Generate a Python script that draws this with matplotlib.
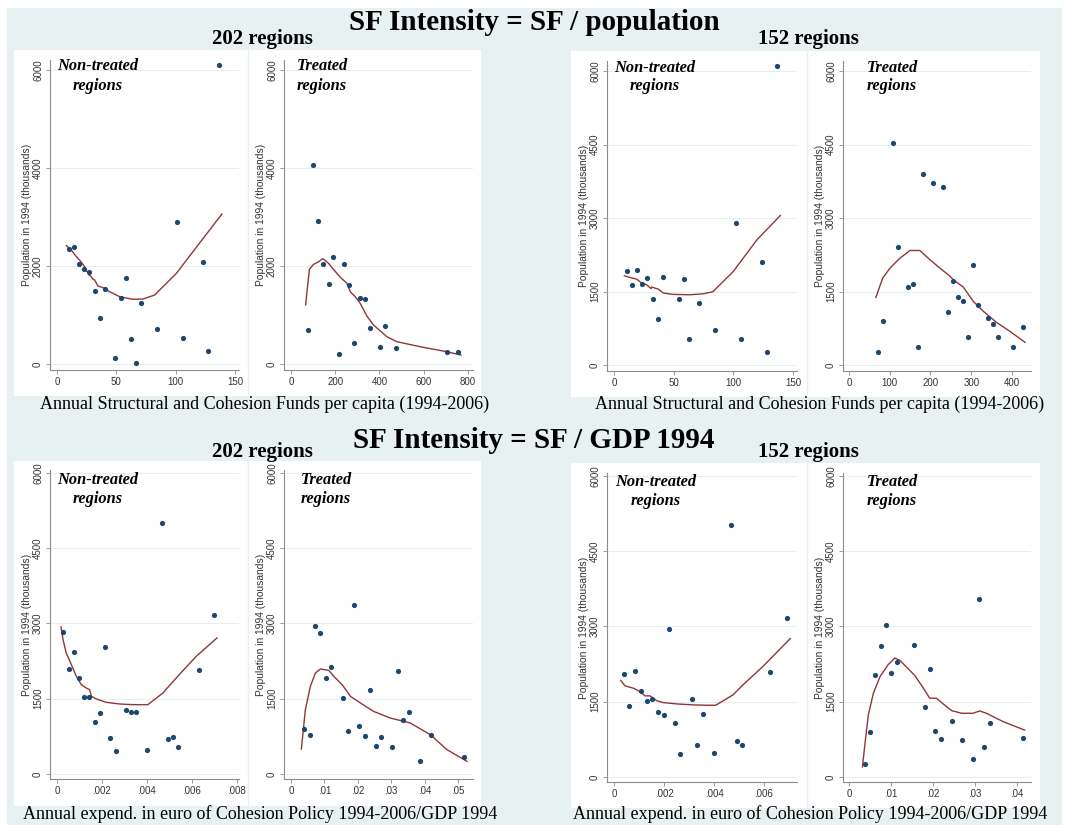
import matplotlib.pyplot as plt
from matplotlib.patches import Rectangle
from matplotlib.lines import Line2D

W, H = 1068, 825

# ---- data ----
# top row: SF / population
a_x = [10.1, 14.6, 18.5, 23, 27.2, 31.7, 36, 40.4, 53.7, 49.2, 57.9, 62.4, 66.9, 70.8, 84, 101.4, 105.9, 123, 127.5, 136.2]
a_y = [2347, 2388, 2048, 1939, 1884, 1490, 932, 1524, 1340, 122, 1748, 517, 27, 1250, 714, 2891, 537, 2088, 265, 6102]
a_fx = [7.9, 12, 16, 19, 21, 23.3, 24.5, 26, 26.8, 29, 30, 31.7, 34.5, 38.8, 44.4, 52.8, 64, 72.5, 82.3, 100.6, 120, 139]
a_fy = [2415, 2327, 2200, 2122, 2060, 1986, 1900, 1884, 1820, 1782, 1740, 1714, 1592, 1558, 1476, 1374, 1320, 1327, 1408, 1850, 2463, 3061]

b_x = [75, 99, 123, 146, 170, 191, 215, 239, 262, 287, 310, 334, 356, 403, 427, 474, 707, 753]
b_y = [687, 4054, 2925, 2041, 1633, 2184, 204, 2041, 1619, 422, 1347, 1320, 741, 354, 782, 333, 252, 252]
b_fx = [66, 83, 102, 125, 144, 170, 192, 223, 253, 268, 290, 313, 343, 373, 433, 478, 583, 703, 768]
b_fy = [1204, 1932, 2034, 2088, 2150, 2054, 1932, 1769, 1646, 1476, 1374, 1238, 980, 796, 558, 456, 354, 252, 184]

c_x = [10.6, 15.1, 19.3, 23.8, 28, 32.5, 36.9, 41.1, 54.3, 58.5, 63, 71.6, 84.8, 102.2, 106.4, 123.7, 128.2, 136.9]
c_y = [1923, 1631, 1937, 1651, 1767, 1352, 938, 1787, 1345, 1753, 523, 1264, 713, 2888, 537, 2093, 272, 6095]
c_fx = [8.7, 13.4, 19, 23.2, 27.4, 31, 31.6, 37.2, 41.4, 49.8, 63.8, 75, 82.8, 100, 119.8, 139.4]
c_fy = [1821, 1787, 1753, 1672, 1638, 1560, 1590, 1549, 1468, 1441, 1434, 1454, 1495, 1909, 2555, 3051]

d_x = [72, 84, 108.8, 120, 144.8, 157, 169.3, 182.4, 207, 230.7, 243.8, 256, 268.3, 280.6, 292, 303.5, 315.7, 341, 353.4, 366.5, 402.5, 427]
d_y = [265, 904, 4525, 2405, 1597, 1658, 367, 3900, 3724, 3642, 1074, 1719, 1379, 1305, 564, 2038, 1223, 965, 843, 564, 360, 781]
d_fx = [66, 82.6, 100.6, 125, 149.7, 174, 198.8, 223, 243.8, 256, 280.6, 305, 330, 362, 395, 432]
d_fy = [1379, 1773, 1977, 2181, 2337, 2337, 2147, 1977, 1841, 1739, 1590, 1298, 1094, 870, 686, 462]

# bottom row: SF / GDP 1994
e_x = [.00028, .00052, .00074, .00098, .00121, .00144, .00167, .00191, .00213, .00237, .00261, .00307, .0033, .00353, .00399, .00468, .00492, .00514, .00538, .00631, .00699]
e_y = [2824, 2093, 2432, 1914, 1528, 1528, 1037, 1209, 2532, 718, 465, 1282, 1243, 1243, 472, 5003, 704, 738, 532, 2080, 3163]
e_fx = [.00018, .00027, .00041, .00064, .00086, .00108, .0013, .00145, .00153, .00175, .00219, .00279, .00338, .00404, .00471, .0053, .00619, .00711]
e_fy = [2930, 2678, 2412, 2179, 1947, 1781, 1714, 1681, 1548, 1495, 1429, 1395, 1382, 1382, 1615, 1914, 2346, 2711]

f_x = [.0039, .0056, .0072, .0088, .0106, .0121, .0156, .0172, .0188, .0204, .0221, .0237, .0254, .027, .0303, .032, .0336, .0353, .0385, .0419, .0518]
f_y = [890, 784, 2957, 2817, 1920, 2140, 1508, 850, 3375, 957, 764, 1681, 558, 744, 532, 2060, 1070, 1243, 252, 784, 339]
f_fx = [.0031, .0043, .0058, .0073, .0088, .0113, .0128, .0153, .0178, .0208, .0247, .0297, .0357, .0417, .0467, .0527]
f_fy = [498, 1282, 1748, 2013, 2093, 2066, 1947, 1781, 1548, 1415, 1249, 1116, 1017, 784, 485, 252]

g_x = [.0004, .00061, .00085, .00106, .0013, .00153, .00176, .00198, .0022, .00242, .00265, .0031, .00331, .00354, .00399, .00466, .0049, .00512, .00625, .00692]
g_y = [2058, 1416, 2111, 1724, 1510, 1550, 1289, 1236, 2960, 1069, 468, 1563, 635, 1249, 481, 5024, 708, 635, 2085, 3174]
g_fx = [.00027, .00044, .00077, .00104, .00124, .00144, .0017, .00197, .0025, .00317, .0037, .00407, .00476, .00516, .00596, .00705]
g_fy = [1924, 1817, 1771, 1704, 1617, 1617, 1523, 1483, 1457, 1437, 1430, 1430, 1637, 1837, 2205, 2759]

h_x = [.0037, .005, .0063, .0076, .0088, .0101, .0114, .0154, .018, .0193, .0205, .0219, .0245, .027, .0295, .0309, .0322, .0335, .0413]
h_y = [254, 902, 2031, 2612, 3027, 2071, 2292, 2626, 1403, 2151, 922, 762, 1122, 742, 361, 3541, 595, 1069, 782]
h_fx = [.0032, .0038, .0046, .0058, .0074, .0093, .0109, .0121, .0137, .0157, .0177, .0192, .0208, .0224, .0244, .0268, .0295, .0311, .0327, .0367, .0418]
h_fy = [200, 668, 1236, 1670, 2004, 2238, 2372, 2325, 2191, 2018, 1770, 1570, 1570, 1457, 1323, 1270, 1270, 1316, 1270, 1102, 935]

titles = ["SF Intensity = SF / population", "SF Intensity = SF / GDP 1994"]
xlabels = ["Annual Structural and Cohesion Funds per capita (1994-2006)",
           "Annual expend. in euro of Cohesion Policy 1994-2006/GDP 1994"]
ylabel = "Population in 1994 (thousands)"

yt_top_left = [0, 2000, 4000, 6000]
yt_other = [0, 1500, 3000, 4500, 6000]

NAVY = "#1a476f"
MAROON = "#90353b"
BG = "#e8f1f2"

fig = plt.figure(figsize=(W / 100, H / 100), dpi=100)
fig.patch.set_facecolor("white")


def fx(x):
    return x / W


def fy(y):
    return 1 - y / H


def rect(x0, y0, x1, y1, color, z):
    fig.patches.append(Rectangle((fx(x0), fy(y1)), (x1 - x0) / W, (y1 - y0) / H,
                                 transform=fig.transFigure, facecolor=color,
                                 edgecolor="none", zorder=z))


rect(7, 8, 1062, 825, BG, 0)
for (x0, y0, x1, y1, div) in [(14, 50, 481, 396, 248), (571, 51, 1040, 397, 807),
                              (14, 461, 481, 806, 248), (571, 463, 1040, 808, 807)]:
    rect(x0, y0, x1, y1, "white", 1)
    fig.lines.append(Line2D([fx(div), fx(div)], [fy(y0), fy(y1)], transform=fig.transFigure,
                            color=BG, lw=1, zorder=2))

# panel specs: data, fit, pixel box, xlim, xticks, xticklabels, yticks, ylim, label, label style
panels = [
    (a_x, a_y, a_fx, a_fy, (50, 60, 239, 370), (-5.9, 153.4), [0, 50, 100, 150], None, yt_top_left, (-122, 6204), "Non-treated\nregions", "center", 98),
    (b_x, b_y, b_fx, b_fy, (284, 60, 473, 370), (-31.6, 822.6), [0, 200, 400, 600, 800], None, yt_top_left, (-122, 6204), "Treated\nregions", "left", 297),
    (c_x, c_y, c_fx, c_fy, (607, 61, 797, 371), (-5.87, 153.4), [0, 50, 100, 150], None, yt_other, (-122, 6204), "Non-treated\nregions", "center", 655),
    (d_x, d_y, d_fx, d_fy, (843, 61, 1031, 371), (-14.7, 446.6), [0, 100, 200, 300, 400], None, yt_other, (-122, 6204), "Treated\nregions", "left", 867),
    (e_x, e_y, e_fx, e_fy, (50, 470, 239, 779), (-.00031, .00809), [0, .002, .004, .006, .008], ["0", ".002", ".004", ".006", ".008"], yt_other, (-100, 6060), "Non-treated\nregions", "center", 98),
    (f_x, f_y, f_fx, f_fy, (284, 470, 473, 779), (-.0021, .0545), [0, .01, .02, .03, .04, .05], ["0", ".01", ".02", ".03", ".04", ".05"], yt_other, (-100, 6060), "Treated\nregions", "left", 301),
    (g_x, g_y, g_fx, g_fy, (607, 473, 797, 782), (-.00028, .00732), [0, .002, .004, .006], ["0", ".002", ".004", ".006"], yt_other, (-100, 6060), "Non-treated\nregions", "center", 656),
    (h_x, h_y, h_fx, h_fy, (843, 473, 1031, 782), (-.00143, .0433), [0, .01, .02, .03, .04], ["0", ".01", ".02", ".03", ".04"], yt_other, (-100, 6060), "Treated\nregions", "left", 867),
]

for (x, y, lx, ly, box, xl, xt, xtl, yt, yl, lab, ha, labx) in panels:
    l, t, r, b = box
    ax = fig.add_axes([fx(l), fy(b), (r - l) / W, (b - t) / H], zorder=3)
    ax.patch.set_alpha(0)
    ax.plot(lx, ly, color=MAROON, lw=1.0, zorder=3)
    ax.scatter(x, y, s=14, color=NAVY, zorder=4, linewidths=0)
    ax.set_xlim(*xl)
    ax.set_ylim(*yl)
    ax.set_xticks(xt)
    if xtl:
        ax.set_xticklabels(xtl)
    ax.set_yticks(yt)
    ax.set_yticklabels([str(v) for v in yt], rotation=90, va="center")
    for s in ["top", "right"]:
        ax.spines[s].set_visible(False)
    for s in ["left", "bottom"]:
        ax.spines[s].set_color("#8c8c8c")
        ax.spines[s].set_linewidth(0.8)
    ax.tick_params(length=3, width=0.6, color="#8c8c8c", labelsize=7, labelcolor="#333333", pad=2)
    for t_ in ax.get_xticklabels() + ax.get_yticklabels():
        t_.set_family("Liberation Sans")
    ax.grid(axis="y", color="#e6eef0", lw=0.8, zorder=0)
    ax.set_axisbelow(True)
    ax.set_ylabel(ylabel, fontsize=7.4, family="Liberation Sans", color="#333333", labelpad=1)
    top_line = t + 16 if t < 100 else t + 19
    fig.text(fx(labx), fy(top_line), lab, ha=ha, va="center", fontsize=11.8, family="Liberation Serif",
             style="italic", weight="bold", linespacing=1.25, zorder=5)

# titles
for i, ty in enumerate([22, 440]):
    fig.text(0.5, fy(ty), titles[i], ha="center", va="center", fontsize=21,
             family="Liberation Serif", weight="bold", zorder=5)
for (cx, ty) in [(262, 39), (808, 39), (262, 452), (808, 452)]:
    fig.text(fx(cx), fy(ty), "202 regions" if cx < 500 else "152 regions", ha="center", va="center",
             fontsize=15, family="Liberation Serif", weight="bold", zorder=5)
for (cx, ty, i) in [(265, 404, 0), (820, 404, 0), (260, 814, 1), (810, 814, 1)]:
    fig.text(fx(cx), fy(ty), xlabels[i], ha="center", va="center", fontsize=13,
             family="Liberation Serif", zorder=5)

fig.savefig("out.png", dpi=100)
